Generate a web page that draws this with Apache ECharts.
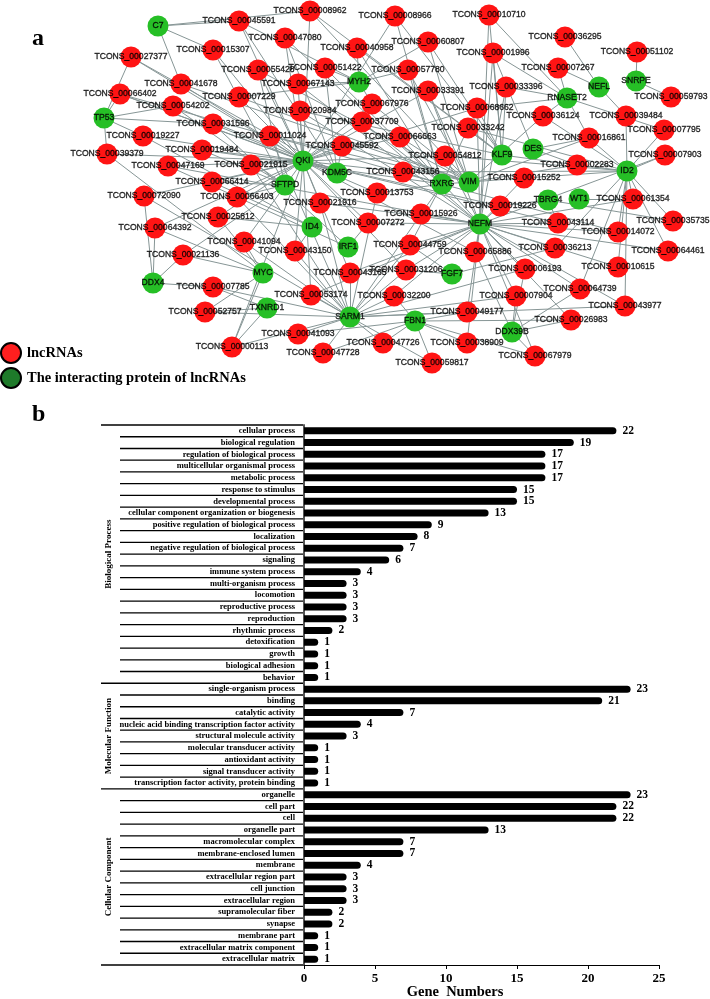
<!DOCTYPE html>
<html><head><meta charset="utf-8">
<script src="https://cdn.jsdelivr.net/npm/echarts@6/dist/echarts.min.js"></script>
<style>html,body{margin:0;padding:0;background:#fff}#c{width:710px;height:999px}</style>
</head><body><div id="c"></div>
<script>
// ---------- Panel a: lncRNA–protein network ----------
const lncIds = ['45591','08962','47080','15307','27377','55428','51422','41678','67143','66402','07229','54202','20984','31596','19227','11024','39379','19484','47169','21915','66414','72090','66403','45592','40958','60807','08966','10710','57780','01996','33391','33396','67976','37709','68662','66663','33242','54812','43156','36295','07267','51102','59793','36124','39484','07795','16861','07903','02283','15252','61354','35735','14072','43114','64461','19226','13753','21916','15926','07272','44759','65886','36213','10615','06193','31206','43165','43150','41094','25812','64392','21136','07785','52757','53174','41093','00113','47728','32200','64739','07904','43977','49177','26983','47726','38909','67979','59817'];
const lncX = [239,310,285,213,131,258,325,181,298,120,239,173,300,213,143,270,107,202,168,251,212,144,237,342,357,428,395,489,408,493,428,506,372,362,477,400,468,445,403,565,558,637,671,543,626,664,589,665,577,524,633,673,618,558,668,500,377,320,421,368,410,475,555,618,525,406,350,295,244,218,155,183,213,205,311,298,232,323,394,580,516,625,467,571,383,467,535,432];
const lncY = [21,11,38,50,57,70,68,84,84,94,97,106,111,124,136,136,154,150,166,165,182,196,197,146,48,42,16,15,70,53,91,87,104,122,108,137,128,156,172,37,68,52,97,116,116,130,138,155,165,178,199,221,232,223,251,206,193,203,214,223,245,252,248,267,269,270,273,251,242,217,228,255,287,312,295,334,347,353,296,289,296,306,312,320,343,343,356,363];
const protNames = ['C7','MYH2','TP53','QKI','KDM5C','SFTPD','RXRG','VIM','KLF9','DES','RNASET2','NEFL','SNRPE','ID2','TBRG4','WT1','NEFM','ID4','IRF1','FGF7','MYC','TXNRD1','DDX4','SARM1','FBN1','DDX39B'];
const protX = [158,359,104,303,337,285,442,469,502,533,567,599,636,627,548,579,480,312,348,452,263,267,153,350,415,512];
const protY = [26,82,118,161,173,185,184,182,155,149,98,87,81,171,200,199,224,227,247,274,273,308,283,317,321,332];
const interactions = [
 ['45591','C7 QKI MYH2 KDM5C'],['08962','C7 KLF9 VIM QKI'],['47080','QKI RXRG KDM5C'],['15307','C7 SFTPD QKI'],
 ['27377','QKI KDM5C TP53'],['55428','SFTPD VIM QKI'],['51422','MYH2 RXRG KDM5C'],['41678','QKI C7 VIM'],
 ['67143','MYH2 NEFM QKI'],['66402','TP53 QKI KDM5C RXRG'],['07229','QKI VIM MYH2'],['54202','TP53 SFTPD KDM5C'],
 ['20984','QKI NEFM KLF9'],['31596','TP53 QKI IRF1'],['19227','TP53 QKI ID4'],['11024','QKI VIM SARM1'],
 ['39379','TP53 QKI MYC'],['19484','QKI SFTPD RXRG'],['47169','QKI NEFM IRF1'],['21915','QKI SFTPD SARM1'],
 ['66414','SFTPD QKI ID4'],['72090','DDX4 QKI SARM1'],['66403','SFTPD QKI SARM1'],['45592','QKI KDM5C VIM'],
 ['40958','MYH2 KLF9 RXRG'],['60807','MYH2 KLF9 VIM'],['08966','KLF9 QKI RXRG'],['10710','KLF9 RNASET2 NEFM'],
 ['57780','MYH2 RXRG VIM'],['01996','KLF9 RNASET2 NEFM DES'],['33391','VIM NEFM QKI'],['33396','RNASET2 KLF9 NEFM'],
 ['67976','MYH2 QKI VIM'],['37709','QKI RXRG NEFM'],['68662','RNASET2 KLF9 NEFM QKI'],['66663','QKI VIM NEFM'],
 ['33242','KLF9 RXRG ID2'],['54812','QKI ID2 NEFM'],['43156','QKI RXRG ID2'],['36295','NEFL'],
 ['07267','NEFL RNASET2'],['51102','SNRPE'],['59793','SNRPE'],['36124','RNASET2 VIM ID2'],
 ['39484','NEFL ID2'],['07795','ID2 RNASET2'],['16861','RNASET2 ID2 VIM DES'],['07903','ID2 NEFM'],
 ['02283','ID2 VIM KLF9 DES'],['15252','RXRG ID2 NEFM'],['61354','WT1 ID2 NEFM'],['35735','ID2 TBRG4'],
 ['14072','ID2 NEFM RXRG'],['43114','NEFM TBRG4 QKI'],['64461','ID2 NEFM'],['19226','NEFM TBRG4 QKI'],
 ['13753','QKI RXRG SARM1'],['21916','QKI SARM1 NEFM'],['15926','NEFM RXRG SARM1'],['07272','QKI NEFM IRF1'],
 ['44759','SARM1 NEFM RXRG FGF7'],['65886','NEFM DDX39B QKI'],['36213','NEFM ID2 FGF7'],['10615','ID2 NEFM'],
 ['06193','NEFM DDX39B SARM1'],['31206','SARM1 NEFM QKI FGF7'],['43165','SARM1 QKI NEFM'],['43150','ID4 SARM1 QKI'],
 ['41094','MYC SARM1 QKI'],['25812','QKI ID4 MYC'],['64392','DDX4 MYC QKI'],['21136','DDX4 MYC SFTPD'],
 ['07785','DDX4 TXNRD1 SARM1'],['52757','TXNRD1 MYC SARM1'],['53174','SARM1 QKI NEFM'],['41093','SARM1 FBN1'],
 ['00113','SARM1 MYC TXNRD1 QKI'],['47728','SARM1 FBN1'],['32200','SARM1 NEFM FBN1'],['64739','NEFM DDX39B ID2'],
 ['07904','NEFM SARM1 DDX39B'],['43977','SARM1 NEFM ID2'],['49177','FBN1 SARM1 NEFM'],['26983','DDX39B FBN1 NEFM'],
 ['47726','FBN1 SARM1'],['38909','FBN1 NEFM'],['67979','DDX39B FBN1 NEFM'],['59817','FBN1 SARM1']
];
const legendItems = ['lncRNAs','The interacting protein of lncRNAs'];

// ---------- Panel b: GO classification ----------
const bpCategories = ['cellular process','biological regulation','regulation of biological process','multicellular organismal process','metabolic process','response to stimulus','developmental process','cellular component organization or biogenesis','positive regulation of biological process','localization','negative regulation of biological process','signaling','immune system process','multi-organism process','locomotion','reproductive process','reproduction','rhythmic process','detoxification','growth','biological adhesion','behavior'];
const bpValues = [22,19,17,17,17,15,15,13,9,8,7,6,4,3,3,3,3,2,1,1,1,1];
const mfCategories = ['single-organism process','binding','catalytic activity','nucleic acid binding transcription factor activity','structural molecule activity','molecular transducer activity','antioxidant activity','signal transducer activity','transcription factor activity, protein binding'];
const mfValues = [23,21,7,4,3,1,1,1,1];
const ccCategories = ['organelle','cell part','cell','organelle part','macromolecular complex','membrane-enclosed lumen','membrane','extracellular region part','cell junction','extracellular region','supramolecular fiber','synapse','membrane part','extracellular matrix component','extracellular matrix'];
const ccValues = [23,22,22,13,7,7,4,3,3,3,2,2,1,1,1];
const groupNames = ['Biological Process','Molecular Function','Cellular Component'];
const xTicks = [0,5,10,15,20,25];

// ---------- build ----------
const RED = '#ff1414', GREEN = '#26bf26';
const nodes = [];
lncIds.forEach((id,i)=>nodes.push({name:'TCONS_000'+id, value:[lncX[i],lncY[i]], itemStyle:{color:RED}}));
protNames.forEach((p,i)=>nodes.push({name:p, value:[protX[i],protY[i]], itemStyle:{color:GREEN}}));
const links = [];
interactions.forEach(([id,ps])=>ps.split(' ').forEach(p=>links.push({source:'TCONS_000'+id, target:p})));
const labelData = nodes.map(n=>({name:n.name, value:[n.value[0], n.value[1]]}));

const groups = [bpCategories, mfCategories, ccCategories];
const cats = [].concat(bpCategories, mfCategories, ccCategories);
const vals = [].concat(bpValues, mfValues, ccValues);
const groupStart = [], groupLen = [];
let acc = 0; groups.forEach(g=>{groupStart.push(acc); groupLen.push(g.length); acc += g.length;});
const serif = 'Liberation Serif, Times New Roman, serif';

const chart = echarts.init(document.getElementById('c'), null, {renderer:'canvas'});
chart.setOption({
  animation:false,
  backgroundColor:'#fff',
  grid:[
    {left:0, top:0, width:710, height:400},
    {left:304, top:425, width:355, height:540},
    {left:101, top:425, width:202, height:540}
  ],
  xAxis:[
    {gridIndex:0, type:'value', min:0, max:710, show:false},
    {gridIndex:1, type:'value', min:0, max:25, interval:5,
     axisLine:{show:true, lineStyle:{color:'#000', width:1.2}},
     axisTick:{show:true, length:4, lineStyle:{color:'#000'}},
     axisLabel:{color:'#000', fontFamily:serif, fontWeight:'bold', fontSize:13, margin:7},
     splitLine:{show:false}},
    {gridIndex:2, type:'value', min:0, max:1, show:false}
  ],
  yAxis:[
    {gridIndex:0, type:'value', min:0, max:400, inverse:true, show:false},
    {gridIndex:1, type:'category', data:cats, inverse:true,
     axisLine:{show:true, lineStyle:{color:'#555', width:2}},
     axisTick:{show:false},
     axisLabel:{interval:0, color:'#000', fontFamily:serif, fontWeight:'bold', fontSize:8.5, margin:9}},
    {gridIndex:2, type:'category', data:cats, inverse:true, show:false}
  ],
  series:[
    {type:'graph', coordinateSystem:'cartesian2d', xAxisIndex:0, yAxisIndex:0, z:2,
     symbol:'circle', symbolSize:21, data:nodes, links:links, silent:true,
     label:{show:false},
     lineStyle:{color:'#879696', width:1, opacity:1, curveness:0}},
    {type:'scatter', xAxisIndex:0, yAxisIndex:0, z:3, data:labelData, symbolSize:1, silent:true,
     itemStyle:{color:'rgba(0,0,0,0)'},
     label:{show:true, position:'inside', formatter:'{b}', color:'#000', textBorderWidth:0.35, textBorderColor:'#000',
            fontFamily:'Liberation Sans, Arial, sans-serif', fontSize:8.6},
     labelLayout:{hideOverlap:false}},
    {type:'bar', xAxisIndex:1, yAxisIndex:1, data:vals, barWidth:7,
     itemStyle:{color:'#000', borderRadius:[0,3.5,3.5,0]},
     label:{show:true, position:'right', distance:6, color:'#000', fontFamily:serif, fontWeight:'bold', fontSize:11.5}},
    {type:'custom', xAxisIndex:2, yAxisIndex:2, silent:true,
     data:cats.map((c,i)=>[0,i]),
     renderItem:function(params, api){
       const i = api.value(1);
       const c = api.coord([0,i]);
       const bw = api.size([0,1])[1];
       const cs = params.coordSys;
       const children = [];
       const yb = c[1] + bw/2;
       let gi = 0; for (let g=0; g<groupStart.length; g++) if (i>=groupStart[g]) gi=g;
       const isEnd = (i === groupStart[gi] + groupLen[gi] - 1);
       if (i === 0) children.push({type:'line', shape:{x1:cs.x, y1:c[1]-bw/2, x2:cs.x+cs.width, y2:c[1]-bw/2}, style:{stroke:'#000', lineWidth:1.3}});
       children.push({type:'line', shape:{x1:isEnd?cs.x:cs.x+19, y1:yb, x2:cs.x+cs.width, y2:yb}, style:{stroke:'#000', lineWidth:1.3}});
       if (i === groupStart[gi]) {
         const yc = c[1] - bw/2 + groupLen[gi]*bw/2;
         children.push({type:'text', x:cs.x+7.5, y:yc, rotation:Math.PI/2,
           style:{text:groupNames[gi], textAlign:'center', textVerticalAlign:'middle', fill:'#000', fontFamily:serif, fontWeight:'bold', fontSize:9}});
       }
       return {type:'group', children:children};
     }}
  ],
  graphic:[
    {type:'text', left:32, top:27, style:{text:'a', fontFamily:serif, fontWeight:'bold', fontSize:24, fill:'#000'}},
    {type:'text', left:32, top:403, style:{text:'b', fontFamily:serif, fontWeight:'bold', fontSize:24, fill:'#000'}},
    {type:'circle', shape:{cx:11, cy:353, r:10}, style:{fill:'#ff1f1f', stroke:'#000', lineWidth:2}},
    {type:'circle', shape:{cx:11, cy:378, r:10}, style:{fill:'#1e7a2a', stroke:'#000', lineWidth:2}},
    {type:'text', x:27, y:353, style:{text:legendItems[0], textVerticalAlign:'middle', fontFamily:serif, fontWeight:'bold', fontSize:14.5, fill:'#000'}},
    {type:'text', x:27, y:378, style:{text:legendItems[1], textVerticalAlign:'middle', fontFamily:serif, fontWeight:'bold', fontSize:14.5, fill:'#000'}},
    {type:'text', x:455, y:992, style:{text:'Gene  Numbers', textAlign:'center', textVerticalAlign:'middle', fontFamily:serif, fontWeight:'bold', fontSize:14.5, fill:'#000'}}
  ]
});
</script></body></html>
